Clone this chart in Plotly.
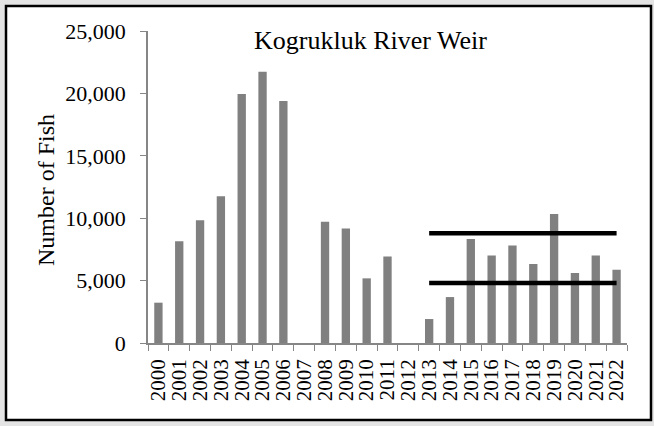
import plotly.graph_objects as go

years = [str(y) for y in range(2000, 2023)]
fish = [3230, 8150, 9830, 11750, 19950, 21740, 19390, None, 9720, 9180, 5180, 6940, None,
        1920, 3680, 8330, 7020, 7820, 6330, 10330, 5610, 7020, 5870]
goal_years = ["2013", "2022"]
goal_upper = [8800, 8800]
goal_lower = [4800, 4800]
y_ticks = [0, 5000, 10000, 15000, 20000, 25000]
y_tick_text = ["0", "5,000", "10,000", "15,000", "20,000", "25,000"]

W, H = 654, 426
L, R, T, B = 148, 27, 31, 83
pw, ph = W - L - R, H - T - B

def px_x(x):
    return (x - L) / pw

def px_y(y):
    return (H - B - y) / ph

fig = go.Figure()
fig.add_trace(go.Bar(x=years, y=fish, marker=dict(color="#808080", line=dict(width=0)),
                     showlegend=False))
for vals in (goal_upper, goal_lower):
    fig.add_trace(go.Scatter(x=goal_years, y=vals, mode="lines",
                             line=dict(color="black", width=4.5), showlegend=False))

fig.update_layout(
    width=W, height=H,
    margin=dict(l=L, r=R, t=T, b=B),
    paper_bgcolor="#e4e4e4",
    plot_bgcolor="white",
    bargap=0.6,
    font=dict(family="Liberation Serif", color="black"),
    shapes=[dict(type="rect", xref="paper", yref="paper", layer="below",
                 x0=px_x(6), x1=px_x(651), y0=px_y(420), y1=px_y(6),
                 fillcolor="white", line=dict(color="black", width=2.5))],
    annotations=[
        dict(text="Kogrukluk River Weir", xref="paper", yref="paper",
             x=px_x(370), y=px_y(40), xanchor="center", yanchor="middle",
             showarrow=False, font=dict(size=26, family="Liberation Serif")),
        dict(text="Number of Fish", xref="paper", yref="paper",
             x=px_x(46), y=px_y(190), xanchor="center", yanchor="middle",
             textangle=-90, showarrow=False, font=dict(size=24, family="Liberation Serif")),
    ],
)
fig.update_xaxes(type="category", categoryorder="array", categoryarray=years,
                 tickmode="array", tickvals=years, ticktext=years,
                 showline=True, linecolor="#868686", linewidth=1.5,
                 ticks="outside", tickson="boundaries", ticklen=6, tickcolor="#868686",
                 tickangle=-90, tickfont=dict(size=21), showgrid=False, ticklabelstandoff=6)
fig.update_yaxes(range=[0, 25000], tickvals=y_ticks, ticktext=y_tick_text,
                 showline=True, linecolor="#868686", linewidth=1.5,
                 ticks="outside", ticklen=6, tickcolor="#868686",
                 tickfont=dict(size=22), showgrid=False, zeroline=False, ticklabelstandoff=10)

fig.write_html("out.html", config={"displayModeBar": False},
               post_script="document.body.style.margin='0';document.body.style.background='#e4e4e4';")
